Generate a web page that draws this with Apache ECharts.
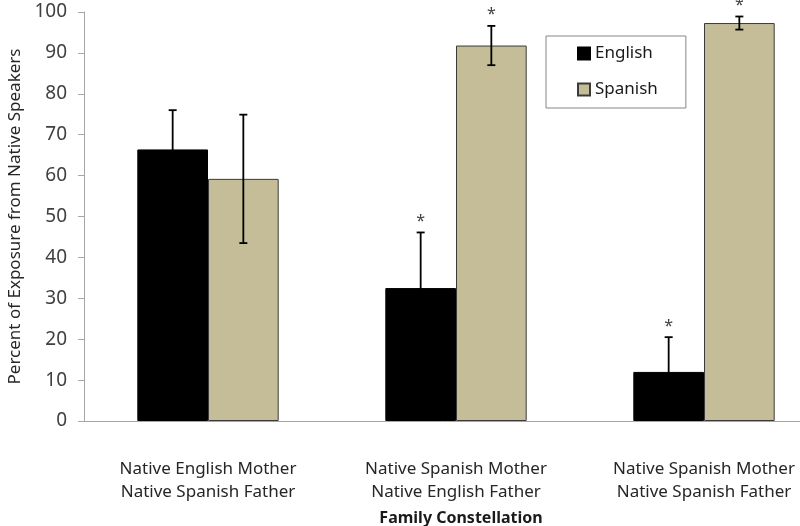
<!DOCTYPE html>
<html>
<head>
<meta charset="utf-8">
<script src="https://cdn.jsdelivr.net/npm/echarts@6/dist/echarts.min.js"></script>
<style>
  html, body { margin: 0; padding: 0; background: #fff; }
  #main { width: 800px; height: 526px; }
</style>
</head>
<body>
<div id="main"></div>
<script>
// values
var categories = ['Native English Mother\nNative Spanish Father', 'Native Spanish Mother\nNative English Father', 'Native Spanish Mother\nNative Spanish Father'];
var englishVals = [66.4, 32.5, 12.0];
var englishErr = [9.6, 13.6, 8.5];
var englishStar = [false, true, true];
var spanishVals = [59.2, 91.8, 97.3];
var spanishErr = [15.7, 4.8, 1.6];
var spanishStar = [false, true, true];
var yTicks = [0, 10, 20, 30, 40, 50, 60, 70, 80, 90, 100];

var FONT = '"Noto Sans", sans-serif';
var GAP = 0.43;

function errData(vals, err, star) {
    var out = [];
    for (var i = 0; i < vals.length; i++) {
        out.push([i, vals[i] - err[i], vals[i] + err[i], star[i] ? 1 : 0]);
    }
    return out;
}

function errRender(side) {
    return function (params, api) {
        var i = api.value(0);
        var bandW = api.size([1, 0])[0];
        var barW = bandW * (1 - GAP) / 2;
        var lo = api.coord([i, api.value(1)]);
        var hi = api.coord([i, api.value(2)]);
        var x = lo[0] + side * barW / 2;
        var cap = 4;
        var st = { stroke: '#000', lineWidth: 1.8 };
        var kids = [
            { type: 'line', shape: { x1: x, y1: lo[1], x2: x, y2: hi[1] }, style: st },
            { type: 'line', shape: { x1: x - cap, y1: lo[1], x2: x + cap, y2: lo[1] }, style: st },
            { type: 'line', shape: { x1: x - cap, y1: hi[1], x2: x + cap, y2: hi[1] }, style: st }
        ];
        if (api.value(3)) {
            kids.push({ type: 'text', style: { text: '*', x: x, y: hi[1] - 3, align: 'center', verticalAlign: 'bottom', fill: '#404040', font: '16px ' + FONT } });
        }
        return { type: 'group', children: kids };
    };
}

var chart = echarts.init(document.getElementById('main'));
chart.setOption({
    animation: false,
    backgroundColor: '#fff',
    grid: { left: 84, top: 12, width: 744, height: 409, outerBoundsMode: 'none', containLabel: false },
    title: {
        text: 'Family Constellation',
        left: 456, top: 505, textAlign: 'center',
        textStyle: { fontFamily: FONT, fontSize: 16, fontWeight: 'bold', color: '#1a1a1a' }
    },
    legend: {
        orient: 'vertical',
        left: 546, top: 36,
        padding: [9, 28, 10, 31],
        itemGap: 19,
        itemWidth: 12, itemHeight: 12,
        icon: 'rect',
        borderColor: '#868686', borderWidth: 1,
        textStyle: { fontFamily: FONT, fontSize: 17, color: '#1a1a1a' },
        data: ['English', 'Spanish']
    },
    xAxis: {
        type: 'category',
        data: categories,
        axisLine: { lineStyle: { color: '#a6a6a6', width: 1 } },
        axisTick: { show: false },
        axisLabel: { margin: 37, fontFamily: FONT, fontSize: 17, color: '#262626', lineHeight: 23 }
    },
    yAxis: {
        type: 'value',
        min: 0, max: 100, interval: 10,
        name: 'Percent of Exposure from Native Speakers',
        nameLocation: 'middle',
        nameGap: 58,
        nameTextStyle: { fontFamily: FONT, fontSize: 17, color: '#262626' },
        axisLine: { show: true, lineStyle: { color: '#a6a6a6' } },
        axisTick: { show: true, length: 6, lineStyle: { color: '#a6a6a6' } },
        splitLine: { show: false },
        axisLabel: {
            margin: 17, fontFamily: FONT, fontSize: 19, color: '#404040',
            formatter: function (v) { return yTicks.indexOf(v) >= 0 ? String(v) : ''; }
        }
    },
    series: [
        {
            name: 'English', type: 'bar', data: englishVals,
            barGap: '0%', barCategoryGap: '43%',
            itemStyle: { color: '#000', borderColor: '#000', borderWidth: 1 }
        },
        {
            name: 'Spanish', type: 'bar', data: spanishVals,
            barGap: '0%', barCategoryGap: '43%',
            itemStyle: { color: '#c4bd97', borderColor: '#3a3a3a', borderWidth: 1 }
        },
        {
            type: 'custom', renderItem: errRender(-1), data: errData(englishVals, englishErr, englishStar),
            encode: { x: 0, y: [1, 2] }, z: 5, silent: true
        },
        {
            type: 'custom', renderItem: errRender(1), data: errData(spanishVals, spanishErr, spanishStar),
            encode: { x: 0, y: [1, 2] }, z: 5, silent: true
        }
    ]
});
</script>
</body>
</html>
